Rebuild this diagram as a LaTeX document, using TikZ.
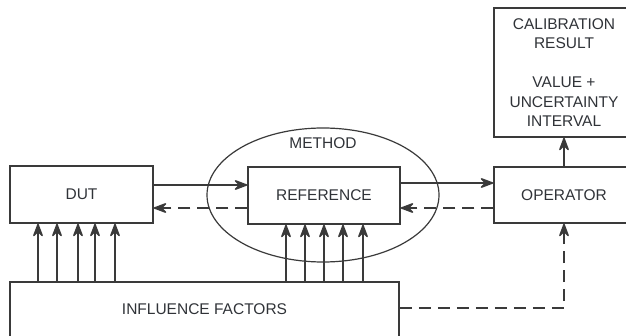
\documentclass[tikz,border=0pt]{standalone}
\usepackage{fontspec}
\setmainfont{Liberation Sans}
\usetikzlibrary{arrows.meta,shapes.geometric}
\definecolor{ln}{HTML}{3A3A3A}
\definecolor{tx}{HTML}{303338}
\tikzset{tipx/.tip={Stealth[length=16pt,width=12pt,inset=6pt,round]}}
\begin{document}
\begin{tikzpicture}[x=1pt,y=-1pt,
  every node/.style={font=\fontsize{15.5}{19.5}\selectfont, text=tx},
  blk/.style={draw=ln, line width=1.5pt, rectangle, inner sep=0pt, align=center},
  conn/.style={draw=ln, line width=1.5pt, -tipx},
  dsh/.style={dash pattern=on 12pt off 7pt}]
\useasboundingbox (0,0) rectangle (626,336);
\clip (0,0) rectangle (626,336);
\node[draw=ln, line width=1.2pt, ellipse, minimum width=232pt, minimum height=134pt, inner sep=0pt] (method) at (323,195) {};
\node (methodlbl) at (323,143) {METHOD};
\node[blk, minimum width=143pt, minimum height=57pt] (dut) at (81.5,194.5) {DUT};
\node[blk, minimum width=152pt, minimum height=57pt] (ref) at (324,195.5) {REFERENCE};
\node[blk, minimum width=140pt, minimum height=56pt] (op) at (564,195) {OPERATOR};
\node[blk, minimum width=140pt, minimum height=129pt] (cal) at (564,72.5) {CALIBRATION\\RESULT\\ \\VALUE +\\UNCERTAINTY\\INTERVAL};
\node[blk, minimum width=389pt, minimum height=55pt] (inf) at (204.5,309.5) {INFLUENCE FACTORS};
% forward / backward
\draw[conn] (dut.east |- 0,185) -- (ref.west |- 0,185);
\draw[conn, dsh] (ref.west |- 0,208) -- (dut.east |- 0,208);
\draw[conn] (ref.east |- 0,183) -- (op.west |- 0,183);
\draw[conn, dsh] (op.west |- 0,208) -- (ref.east |- 0,208);
\draw[conn] (op.north) -- (cal.south);
\draw[conn, dsh] (inf.east |- 0,308) -| (op.south);
% influence arrows
\foreach \x in {38,57,78,95,115} \draw[conn] (inf.north -| \x,0) -- (dut.south -| \x,0);
\foreach \x in {286,305,324,343,363} \draw[conn] (inf.north -| \x,0) -- (ref.south -| \x,0);
\end{tikzpicture}
\end{document}
